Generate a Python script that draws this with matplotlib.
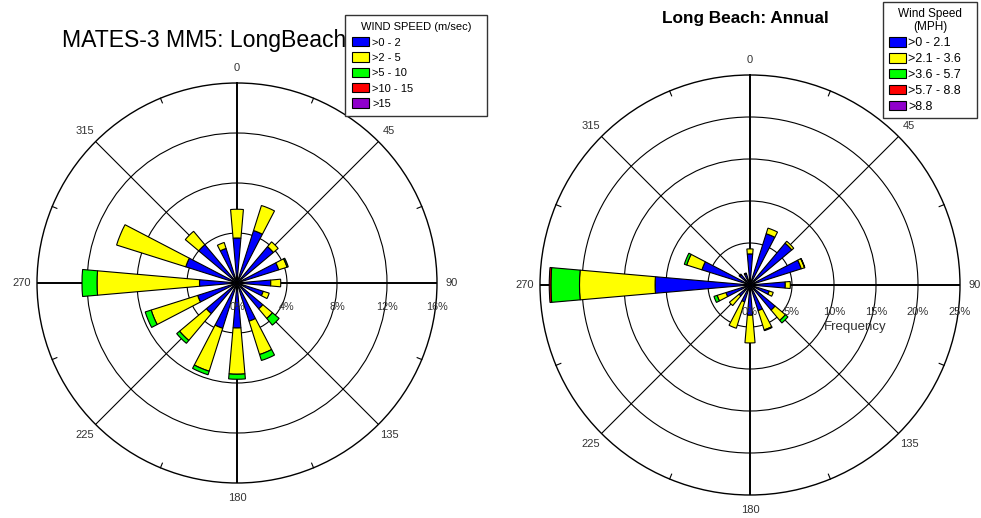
import numpy as np
import matplotlib
matplotlib.use('Agg')
import matplotlib.pyplot as plt
from matplotlib.patches import Patch
from matplotlib import font_manager

plt.rcParams['font.family'] = ['Liberation Sans', 'DejaVu Sans']
names = {f.name for f in font_manager.fontManager.ttflist}
narrow = 'Liberation Sans Narrow' if 'Liberation Sans Narrow' in names else None

# wind directions (degrees, clockwise from north)
directions = [0, 22.5, 45, 67.5, 90, 112.5, 135, 157.5, 180, 202.5, 225, 247.5, 270, 292.5, 315, 337.5]

# left rose: MATES-3 MM5, frequency (%) per speed class (m/sec)
left_labels = ['>0 - 2', '>2 - 5', '>5 - 10', '>10 - 15', '>15']
left_blue = [3.6, 4.4, 3.8, 3.5, 2.7, 2.2, 2.7, 3.2, 3.6, 3.8, 3.2, 3.3, 3.0, 4.3, 4.0, 2.9]
left_yellow = [2.3, 2.1, 0.5, 0.7, 0.8, 0.5, 1.0, 2.8, 3.7, 3.6, 2.8, 3.9, 8.2, 5.8, 1.4, 0.5]
left_green = [0, 0, 0, 0.1, 0, 0, 0.7, 0.5, 0.4, 0.3, 0.3, 0.5, 1.2, 0, 0, 0]
left_red = [0] * 16
left_purple = [0] * 16

# right rose: Long Beach annual, frequency (%) per speed class (MPH)
right_labels = ['>0 - 2.1', '>2.1 - 3.6', '>3.6 - 5.7', '>5.7 - 8.8', '>8.8']
right_blue = [3.7, 6.4, 6.5, 6.4, 4.2, 2.4, 3.9, 3.2, 3.6, 2.1, 1.7, 3.0, 11.3, 6.0, 1.6, 1.4]
right_yellow = [0.6, 0.7, 0.3, 0.4, 0.6, 0.5, 1.6, 2.4, 3.3, 3.3, 1.5, 1.1, 9.0, 1.9, 0.1, 0.1]
right_green = [0, 0, 0, 0.05, 0, 0, 0.4, 0.1, 0, 0, 0, 0.4, 3.4, 0.3, 0, 0]
right_red = [0, 0, 0, 0, 0, 0, 0, 0, 0, 0, 0, 0, 0.2, 0, 0, 0]
right_purple = [0] * 16

colors = ['#0000ff', '#ffff00', '#00ff00', '#ff0000', '#9000cc']


def draw_rose(ax, segs, rings, rmax, label_r, ring_dy, fs_dir, fs_ring):
    ax.set_theta_zero_location('N')
    ax.set_theta_direction(-1)
    ax.set_ylim(0, rmax)
    ax.set_rgrids(rings, labels=[''] * len(rings))
    ax.set_thetagrids(range(0, 360, 45), labels=[''] * 8)
    ax.grid(True, color='black', linewidth=0.8)
    for i, gl in enumerate(ax.xaxis.get_gridlines()):
        gl.set_linewidth(1.4 if i % 2 == 0 else 0.8)
    ax.set_axisbelow(True)
    ax.spines['polar'].set_color('black')
    ax.spines['polar'].set_linewidth(1.0)

    theta = np.radians(directions)
    bottom = np.zeros(len(directions))
    for vals, col in zip(segs, colors):
        vals = np.array(vals, dtype=float)
        m = vals > 0
        ax.bar(theta[m], vals[m], width=np.radians(10), bottom=bottom[m],
               color=col, edgecolor='black', linewidth=0.8, zorder=2)
        bottom += vals

    # small ticks on outer circle between spokes
    for a in np.arange(22.5, 360, 45):
        t = np.radians(a)
        ax.plot([t, t], [rmax * 0.975, rmax], color='black', lw=0.8, clip_on=False)

    for a in range(0, 360, 45):
        ax.text(np.radians(a), label_r, str(a), ha='center', va='center',
                fontsize=fs_dir, color='#333333', clip_on=False)

    for r in [0] + list(rings) + [rmax]:
        ax.annotate(f'{r:g}%', xy=(np.pi / 2, r), xytext=(0, -ring_dy),
                    textcoords='offset pixels', ha='center', va='center',
                    fontsize=fs_ring, color='#333333', zorder=5)


fig = plt.figure(figsize=(9.81, 5.18), dpi=100)

ax1 = fig.add_axes([37 / 981, 35 / 518, 400 / 981, 400 / 518], projection='polar')
draw_rose(ax1, [left_blue, left_yellow, left_green, left_red, left_purple],
          [4, 8, 12], 16, 17.2, 24, 8, 7.8)

ax2 = fig.add_axes([540 / 981, 23 / 518, 420 / 981, 420 / 518], projection='polar')
draw_rose(ax2, [right_blue, right_yellow, right_green, right_red, right_purple],
          [5, 10, 15, 20], 25, 26.8, 27, 8, 8)
ax2.annotate('Frequency', xy=(np.pi / 2, 12.5), xytext=(0, -42),
             textcoords='offset pixels', ha='center', va='center',
             fontsize=9.5, color='#333333')

if narrow:
    fig.text(62 / 981, 1 - 47 / 518, 'MATES-3 MM5: LongBeach', fontsize=20,
             family=[narrow, 'DejaVu Sans'], ha='left', va='baseline')
else:
    fig.text(62 / 981, 1 - 47 / 518, 'MATES-3 MM5: LongBeach', fontsize=16.6,
             ha='left', va='baseline')
fig.text(745 / 981, 1 - 23 / 518, 'Long Beach: Annual', fontsize=12.4,
         fontweight='bold', ha='center', va='baseline')

h1 = [Patch(facecolor=c, edgecolor='black', linewidth=0.8, label=l) for c, l in zip(colors, left_labels)]
leg1 = fig.legend(handles=h1, loc='upper left', bbox_to_anchor=(345 / 981, 1 - 15 / 518, 142 / 981, 0),
                  mode='expand', title='WIND SPEED (m/sec)', fontsize=8, title_fontsize=8,
                  fancybox=False, edgecolor='#333333', framealpha=1, borderaxespad=0,
                  handlelength=1.5, handleheight=0.9, handletextpad=0.3, labelspacing=0.44,
                  borderpad=0.65)

h2 = [Patch(facecolor=c, edgecolor='black', linewidth=0.8, label=l) for c, l in zip(colors, right_labels)]
leg2 = fig.legend(handles=h2, loc='upper left', bbox_to_anchor=(883 / 981, 1 - 2 / 518, 94 / 981, 0),
                  mode='expand', title='Wind Speed\n(MPH)', fontsize=9, title_fontsize=8.5,
                  fancybox=False, edgecolor='#333333', framealpha=1, borderaxespad=0,
                  handlelength=1.36, handleheight=0.8, handletextpad=0.2, labelspacing=0.3,
                  borderpad=0.45)
leg2.get_title().set_multialignment('center')

fig.savefig('out.png', dpi=100)
